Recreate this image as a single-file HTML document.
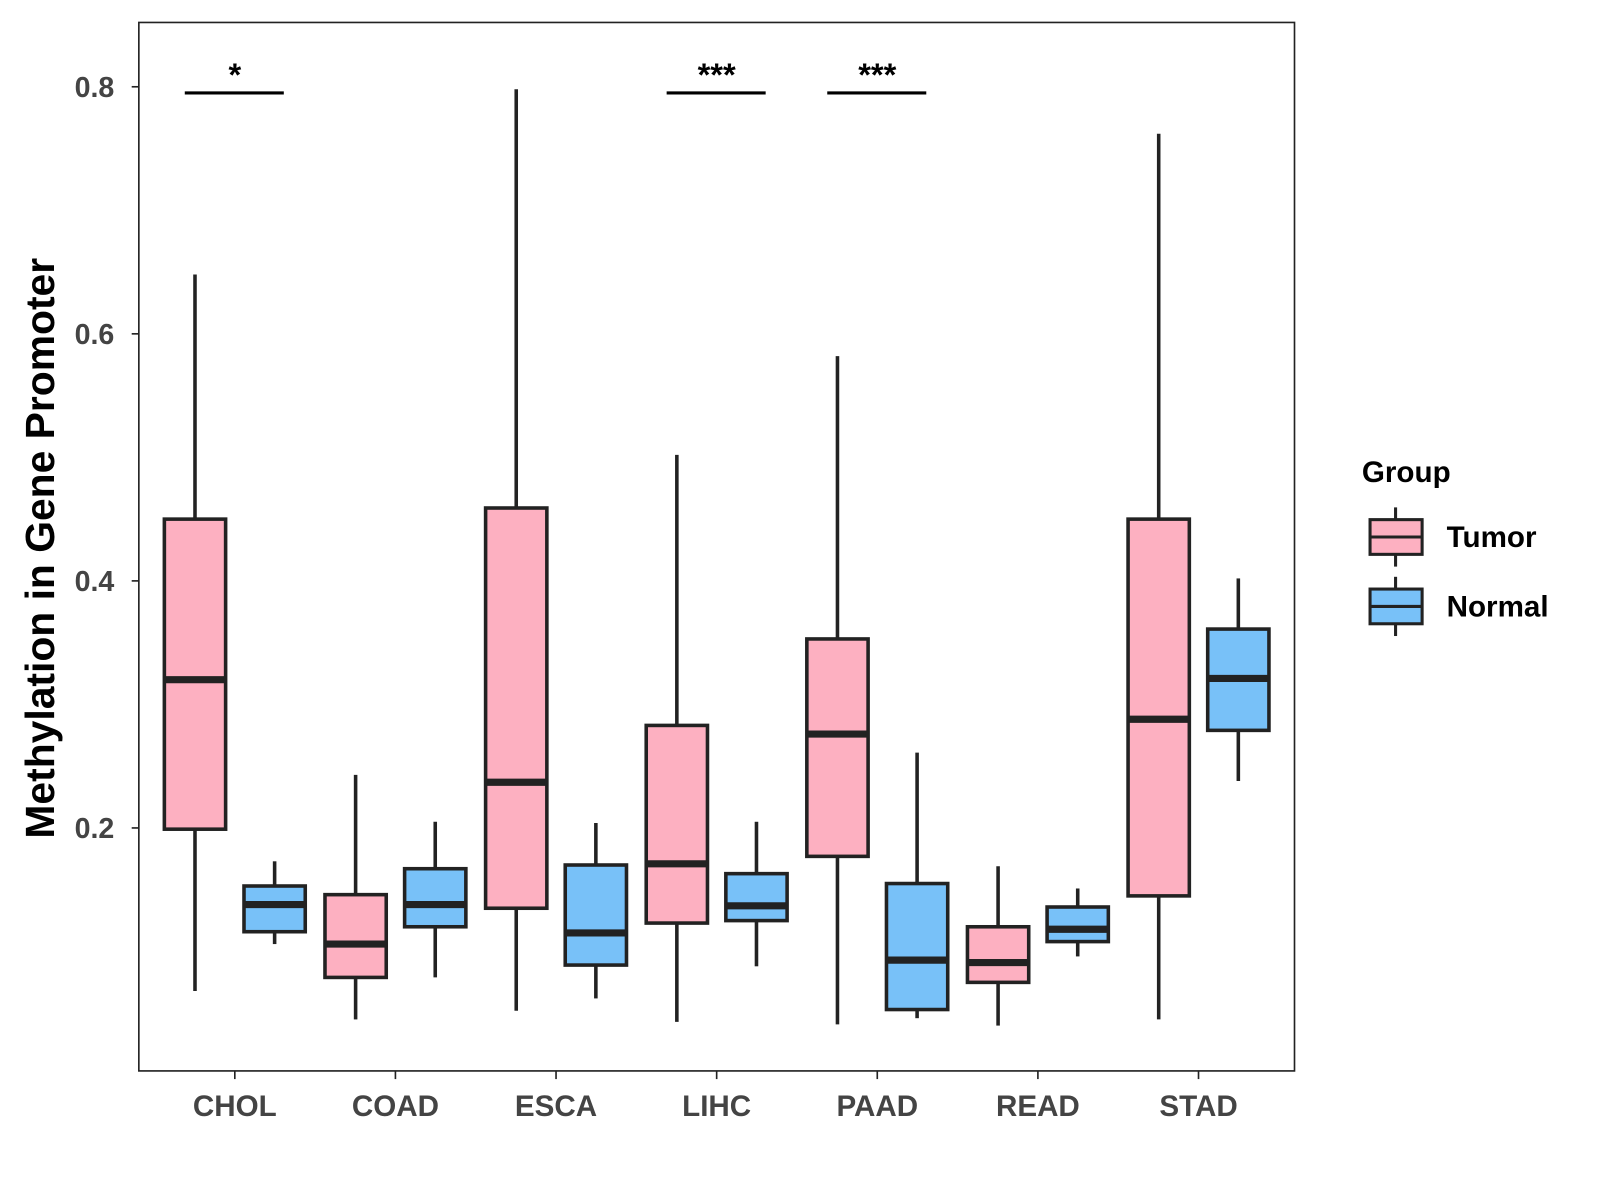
<!DOCTYPE html>
<html><head><meta charset="utf-8"><style>
html,body{margin:0;padding:0;background:#fff;}
svg{display:block;font-family:"Liberation Sans",sans-serif;}
</style></head><body>
<svg id="chart" width="1600" height="1200" viewBox="0 0 1600 1200">
<rect x="0" y="0" width="1600" height="1200" fill="#fff"/>
<g id="plot" transform="scale(1.0209)"></g>
</svg>
<script>
const categories=["CHOL","COAD","ESCA","LIHC","PAAD","READ","STAD"];
const tumorStats=[[0.068,0.199,0.32,0.45,0.648],[0.045,0.079,0.106,0.146,0.243],[0.052,0.135,0.237,0.459,0.798],[0.043,0.123,0.171,0.283,0.502],[0.041,0.177,0.276,0.353,0.582],[0.04,0.075,0.091,0.12,0.169],[0.045,0.145,0.288,0.45,0.762]];
const normalStats=[[0.106,0.116,0.138,0.153,0.173],[0.079,0.12,0.138,0.167,0.205],[0.062,0.089,0.115,0.17,0.204],[0.088,0.125,0.137,0.163,0.205],[0.046,0.053,0.093,0.155,0.261],[0.096,0.108,0.118,0.136,0.151],[0.238,0.279,0.321,0.361,0.402]];
const yTicks=[0.2,0.4,0.6,0.8];
const yTickLabels=["0.2","0.4","0.6","0.8"];
const sigCategories=["CHOL","LIHC","PAAD"];
const sigLabels=["*","***","***"];
const sigValue=0.795;

const NS="http://www.w3.org/2000/svg";
const g=document.getElementById('plot');
const L=136,R=1268,T=22,B=1049;
function y(v){return 1053-v*1210;}
function x(i){return 230+i*157.33;}
function mk(tag,attrs,parent){const e=document.createElementNS(NS,tag);for(const k in attrs)e.setAttribute(k,attrs[k]);(parent||g).appendChild(e);return e;}

const panel=mk('rect',{x:L,y:T,width:R-L,height:B-T,fill:'none',stroke:'#222','stroke-width':1.6});



yTicks.forEach((v,i)=>{
  const t=mk('line',{x1:L-7,x2:L,y1:y(v),y2:y(v),stroke:'#222','stroke-width':1.6});
  
  
  const lb=mk('text',{x:L-24,y:y(v)+10,'text-anchor':'end','font-size':28,'font-weight':'bold',fill:'#444'});
  lb.textContent=yTickLabels[i];
  
  
});
categories.forEach((c,i)=>{
  const t=mk('line',{x1:x(i),x2:x(i),y1:B,y2:B+8,stroke:'#222','stroke-width':1.6});
  
  
  const lb=mk('text',{x:x(i),y:1093,'text-anchor':'middle','font-size':29,'font-weight':'bold',fill:'#444'});
  lb.textContent=c;
  
  
});

function box(cx,s,fill,name){
  const bg=mk('g',{});
  
  
  const w=30;
  mk('line',{x1:cx,x2:cx,y1:y(s[4]),y2:y(s[3]),stroke:'#222','stroke-width':3.5},bg);
  mk('line',{x1:cx,x2:cx,y1:y(s[1]),y2:y(s[0]),stroke:'#222','stroke-width':3.5},bg);
  mk('rect',{x:cx-w,y:y(s[3]),width:2*w,height:y(s[1])-y(s[3]),fill:fill,stroke:'#222','stroke-width':3.5},bg);
  mk('line',{x1:cx-w,x2:cx+w,y1:y(s[2]),y2:y(s[2]),stroke:'#222','stroke-width':7},bg);
}
categories.forEach((c,i)=>{
  box(x(i)-39,tumorStats[i],'#fdb0c1','tumor-box-'+c.toLowerCase());
  box(x(i)+39,normalStats[i],'#78c1f8','normal-box-'+c.toLowerCase());
});

sigCategories.forEach((c,j)=>{
  const i=categories.indexOf(c);
  const l=mk('line',{x1:x(i)-49,x2:x(i)+48,y1:y(sigValue),y2:y(sigValue),stroke:'#000','stroke-width':3});
  
  
  const t=mk('text',{x:x(i),y:y(sigValue)-7,'text-anchor':'middle','font-size':32,'font-weight':'bold',fill:'#000'});
  t.textContent=sigLabels[j];
  
  
});

const yt=mk('text',{x:0,y:0,transform:'translate(53,537) rotate(-90)','text-anchor':'middle','font-size':40,'font-weight':'bold',fill:'#000'});
yt.textContent='Methylation in Gene Promoter';



const lt=mk('text',{x:1334,y:472,'font-size':29,'font-weight':'bold',fill:'#000'});
lt.textContent='Group';


[['Tumor','#fdb0c1',526],['Normal','#78c1f8',594]].forEach(([n,f,cy])=>{
  const eg=mk('g',{});
  
  
  mk('line',{x1:1367,x2:1367,y1:cy-29,y2:cy+29,stroke:'#222','stroke-width':3},eg);
  mk('rect',{x:1342,y:cy-17,width:51,height:34,fill:f,stroke:'#222','stroke-width':3},eg);
  mk('line',{x1:1342,x2:1393,y1:cy,y2:cy,stroke:'#222','stroke-width':3},eg);
  const t=mk('text',{x:1417,y:cy+10,'font-size':29,'font-weight':'bold',fill:'#000'},eg);
  t.textContent=n;
});
</script>
</body></html>
